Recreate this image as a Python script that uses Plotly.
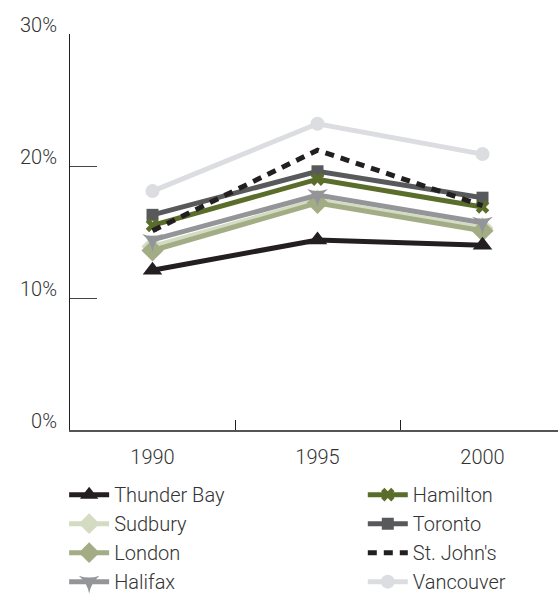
import plotly.graph_objects as go

years = ["1990", "1995", "2000"]
xpos = [0, 1, 2]

cities = ["Thunder Bay", "Sudbury", "London", "Halifax",
          "Hamilton", "Toronto", "St. John's", "Vancouver"]
thunder_bay = [12.1, 14.4, 14.0]
sudbury = [13.9, 17.4, 15.3]
london = [13.6, 17.2, 15.1]
halifax = [14.4, 17.8, 15.7]
hamilton = [15.5, 19.0, 16.9]
toronto = [16.3, 19.6, 17.6]
st_johns = [15.1, 21.2, 17.0]
vancouver = [18.1, 23.2, 20.9]

y_tick_vals = [0, 10, 20, 30]
y_tick_text = ["0%", "10%", "20%", "30%"]

values = {
    "Thunder Bay": thunder_bay, "Sudbury": sudbury, "London": london,
    "Halifax": halifax, "Hamilton": hamilton, "Toronto": toronto,
    "St. John's": st_johns, "Vancouver": vancouver,
}
styles = {
    "Thunder Bay": dict(color="#231f20", symbol="triangle-up", size=17, dash="solid"),
    "Sudbury": dict(color="#d3dbc2", symbol="diamond", size=17, dash="solid"),
    "London": dict(color="#a3ad85", symbol="diamond", size=17, dash="solid"),
    "Halifax": dict(color="#939598", symbol="star-triangle-down", size=15, dash="solid"),
    "Hamilton": dict(color="#5b6d2a", symbol="x", size=12, dash="solid"),
    "Toronto": dict(color="#58595b", symbol="square", size=12, dash="solid"),
    "St. John's": dict(color="#231f20", symbol=None, size=0, dash="9px,7px"),
    "Vancouver": dict(color="#dcdde0", symbol="circle", size=14, dash="solid"),
}
# which legend column each city goes in
legend_col = {"Thunder Bay": "legend", "Sudbury": "legend", "London": "legend",
              "Halifax": "legend", "Hamilton": "legend2", "Toronto": "legend2",
              "St. John's": "legend2", "Vancouver": "legend2"}
legend_rank = {c: i for i, c in enumerate(cities)}
draw_order = ["Vancouver", "Sudbury", "London", "Halifax", "Toronto",
              "Hamilton", "St. John's", "Thunder Bay"]

fig = go.Figure()
for name in draw_order:
    s = styles[name]
    mode = "lines+markers" if s["symbol"] else "lines"
    tr = dict(x=xpos, y=values[name], name=name, mode=mode,
              legend=legend_col[name], legendrank=legend_rank[name],
              line=dict(color=s["color"], width=5, dash=s["dash"]))
    if s["symbol"]:
        tr["marker"] = dict(symbol=s["symbol"], size=s["size"], color=s["color"],
                            line=dict(width=0, color=s["color"]))
    fig.add_trace(go.Scatter(**tr))

# invisible trace on second axis for divider ticks
fig.add_trace(go.Scatter(x=[0.5, 1.5], y=[None, None], xaxis="x2",
                         showlegend=False, hoverinfo="skip"))

font_family = "Roboto, Liberation Sans, sans-serif"
xr = [-0.5, -0.5 + 488 / 165]
leg_common = dict(orientation="v", yanchor="top", y=-0.114, xanchor="left",
                  itemwidth=40, font=dict(size=20, color="#333333", weight=300),
                  traceorder="normal", itemclick=False, itemdoubleclick=False,
                  bgcolor="rgba(0,0,0,0)", tracegroupgap=0)
fig.update_layout(
    width=558, height=595,
    margin=dict(l=70, r=0, t=34, b=165, autoexpand=False),
    paper_bgcolor="white", plot_bgcolor="white",
    font=dict(family=font_family, size=20, color="#333333", weight=300),
    showlegend=True,
    legend=dict(x=-0.012, **leg_common),
    legend2=dict(x=0.600, **leg_common),
    xaxis=dict(range=xr, tickvals=xpos, ticktext=years, ticks="",
               showline=True, linecolor="#555555", linewidth=1.5,
               showgrid=False, zeroline=False, fixedrange=True,
               ticklabelstandoff=8),
    xaxis2=dict(range=xr, overlaying="x", side="bottom", tickvals=[0.5, 1.5],
                ticks="inside", ticklen=10, tickcolor="#231f20", tickwidth=1,
                showticklabels=False, showline=False, showgrid=False,
                zeroline=False, fixedrange=True),
    yaxis=dict(range=[0, 30], tickvals=y_tick_vals, ticktext=y_tick_text,
               ticks="inside", ticklen=27, tickcolor="#444444", tickwidth=1,
               showline=True, linecolor="#231f20", linewidth=1,
               showgrid=False, zeroline=False, fixedrange=True,
               ticklabelshift=-9, ticklabelstandoff=8),
)

fig.write_html("out.html", config={"displayModeBar": False},
               post_script="document.body.style.margin='0';"
                           "document.body.style.overflow='hidden';")
